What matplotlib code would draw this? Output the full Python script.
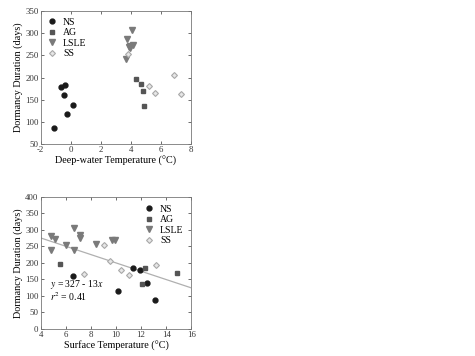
import matplotlib
matplotlib.use("Agg")
import matplotlib.pyplot as plt
import numpy as np

plt.rcParams["font.family"] = ["Liberation Serif", "DejaVu Serif"]
plt.rcParams["axes.unicode_minus"] = False
plt.rcParams["mathtext.fontset"] = "stix"

# top panel: deep-water temperature
deep_ns_x = [-1.11, -0.64, -0.38, -0.42, -0.27, 0.16]
deep_ns_y = [86, 179, 184, 160, 117, 138]
deep_ag_x = [4.35, 4.64, 4.77, 4.84]
deep_ag_y = [197, 185, 170, 136]
deep_lsle_x = [4.09, 3.70, 3.87, 3.96, 4.13, 3.65, 3.92]
deep_lsle_y = [308, 287, 269, 272, 274, 241, 266]
deep_ss_x = [3.83, 5.22, 5.61, 6.83, 7.30]
deep_ss_y = [254, 180, 166, 206, 163]

# bottom panel: surface temperature
surf_ns_x = [6.6, 10.13, 11.33, 11.92, 12.48, 13.1]
surf_ns_y = [161, 116, 184, 178, 138, 87]
surf_ag_x = [5.5, 12.05, 12.32, 14.85]
surf_ag_y = [196, 135, 184, 169]
surf_lsle_x = [4.82, 5.14, 4.82, 5.99, 6.68, 6.62, 7.1, 7.1, 8.37, 9.72, 9.9]
surf_lsle_y = [280, 272, 239, 253, 306, 239, 286, 274, 258, 268, 268]
surf_ss_x = [7.47, 9.06, 9.5, 10.4, 11.0, 13.15]
surf_ss_y = [166, 253, 205, 178, 162, 195]

fit_intercept = 326.0
fit_slope = -12.6
fit_x = [4, 16]

series_style = {
    "NS": dict(marker="o", color="#1a1a1a", mec="#1a1a1a", ms=3.5),
    "AG": dict(marker="s", color="#555555", mec="#555555", ms=2.9),
    "LSLE": dict(marker="v", color="#7a7a7a", mec="#7a7a7a", ms=4.0),
    "SS": dict(marker="D", color="#e6e6e6", mec="#a8a8a8", ms=3.0, mew=0.8),
}


def style_axes(ax, xlim, ylim, xticks, yticks, xlabel):
    ax.set_xlim(*xlim)
    ax.set_ylim(*ylim)
    ax.set_xticks(xticks)
    ax.set_yticks(yticks)
    ax.tick_params(direction="in", length=2, width=0.5, labelsize=6.3, pad=1.5,
                   top=True, right=True, colors="#333333")
    for sp in ax.spines.values():
        sp.set_linewidth(0.6)
        sp.set_color("#777777")
    ax.set_xlabel(xlabel, fontsize=7.3, labelpad=1.5)
    ax.set_ylabel("Dormancy Duration (days)", fontsize=7.3, labelpad=1.5)


fig = plt.figure(figsize=(4.75, 3.56), dpi=100)

ax1 = fig.add_axes([0.0857, 0.595, 0.317, 0.374])
for name, xs, ys in [("NS", deep_ns_x, deep_ns_y), ("AG", deep_ag_x, deep_ag_y),
                     ("LSLE", deep_lsle_x, deep_lsle_y), ("SS", deep_ss_x, deep_ss_y)]:
    ax1.plot(xs, ys, ls="none", label=name, **series_style[name])
style_axes(ax1, (-2, 8), (50, 350), range(-2, 9, 2), range(50, 351, 50),
           "Deep-water Temperature (°C)")
ax1.legend(loc="upper left", frameon=False, fontsize=7, handlelength=1.0,
           handletextpad=0.6, labelspacing=0.15, borderaxespad=0.3)

ax2 = fig.add_axes([0.0857, 0.076, 0.317, 0.371])
for name, xs, ys in [("NS", surf_ns_x, surf_ns_y), ("AG", surf_ag_x, surf_ag_y),
                     ("LSLE", surf_lsle_x, surf_lsle_y), ("SS", surf_ss_x, surf_ss_y)]:
    ax2.plot(xs, ys, ls="none", label=name, **series_style[name])
fx = np.array(fit_x, dtype=float)
ax2.plot(fx, fit_intercept + fit_slope * fx, color="#b0b0b0", lw=0.9, zorder=1)
style_axes(ax2, (4, 16), (0, 400), range(4, 17, 2), range(0, 401, 50),
           "Surface Temperature (°C)")
ax2.legend(loc="upper right", bbox_to_anchor=(1.0, 1.0), frameon=False, fontsize=7,
           handlelength=1.0, handletextpad=0.6, labelspacing=0.15, borderaxespad=0.4)
ax2.text(4.75, 134, r"$y$ = 327 - 13$x$", fontsize=7, va="center")
ax2.text(4.75, 98, r"$r^2$ = 0.41", fontsize=7, va="center")

fig.savefig("out.png", dpi=100)
